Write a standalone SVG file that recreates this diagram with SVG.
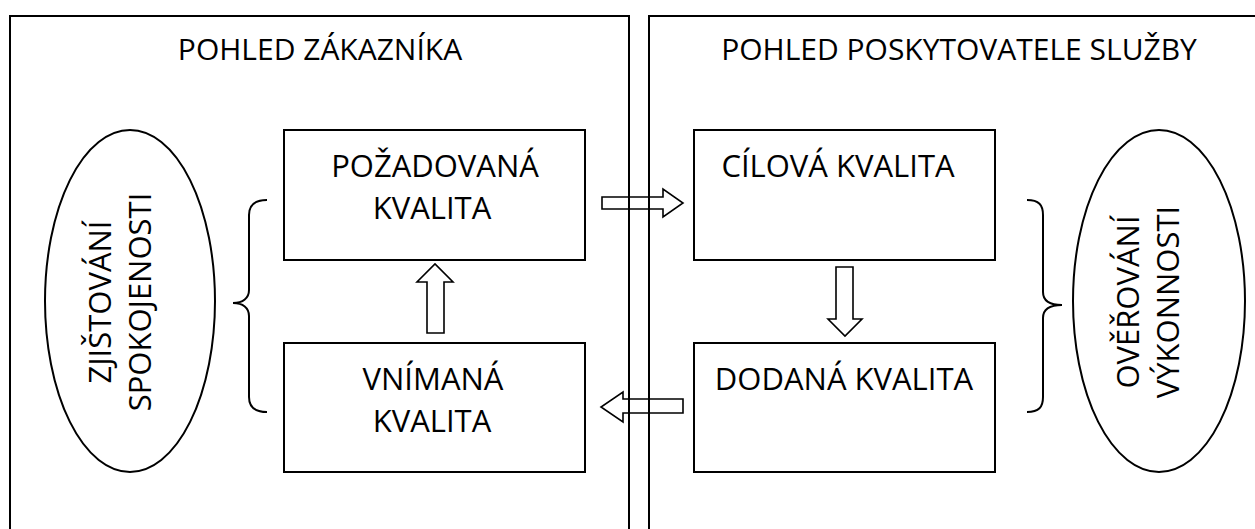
<svg xmlns="http://www.w3.org/2000/svg" width="1255" height="529" viewBox="0 0 1255 529">
<style>
.ln{fill:none;stroke:#000;stroke-width:2}
.bx{fill:#fff;stroke:#000;stroke-width:2}
.el{fill:#fff;stroke:#000;stroke-width:2}
.ar{fill:#fff;stroke:#000;stroke-width:1.6;stroke-linejoin:miter}
.t{font-family:"Open Sans","Noto Sans",sans-serif;font-size:31px;fill:#000;text-anchor:middle}
.h{font-family:"Open Sans","Noto Sans",sans-serif;font-size:30px;fill:#000;text-anchor:middle}
</style>
<rect width="1255" height="529" fill="#fff"/>
<g id="connectors">
<path class="ar" d="M602,197 L663,197 L663,189 L683,203 L663,217 L663,209 L602,209 Z"/>
<path class="ar" d="M427,333 L427,282 L417,282 L435,264 L453,282 L444,282 L444,333 Z"/>
<path class="ar" d="M836,267 L853,267 L853,319 L862,319 L845,336 L828,319 L836,319 Z"/>
<path class="ar" d="M683,399 L623,399 L623,392 L601,407 L623,422 L623,413 L683,413 Z"/>
</g>
<g id="panel-customer">
<path class="ln" d="M10,540 L10,16 L629,16 L629,540"/>
<text class="h" x="320" y="60">POHLED ZÁKAZNÍKA</text>
</g>
<g id="panel-provider">
<path class="ln" d="M649,540 L649,16 L1270,16 L1270,540"/>
<text class="h" x="959" y="60">POHLED POSKYTOVATELE SLUŽBY</text>
</g>
<g id="node-pozadovana">
<rect class="bx" x="284" y="130" width="301" height="130"/>
<text class="t" x="435" y="177">POŽADOVANÁ</text>
<text class="t" x="432" y="219">KVALITA</text>
</g>
<g id="node-vnimana">
<rect class="bx" x="284" y="343" width="301" height="129"/>
<text class="t" x="433" y="390">VNÍMANÁ</text>
<text class="t" x="432" y="432">KVALITA</text>
</g>
<g id="node-cilova">
<rect class="bx" x="694" y="130" width="301" height="130"/>
<text class="t" x="838" y="177">CÍLOVÁ KVALITA</text>
</g>
<g id="node-dodana">
<rect class="bx" x="694" y="343" width="301" height="129"/>
<text class="t" x="844" y="390">DODANÁ KVALITA</text>
</g>
<g id="node-zjistovani">
<ellipse class="el" cx="130" cy="301" rx="85" ry="171"/>
<text class="t" transform="translate(111,302) rotate(-90)">ZJIŠTOVÁNÍ</text>
<text class="t" transform="translate(151,302) rotate(-90)">SPOKOJENOSTI</text>
</g>
<g id="node-overovani">
<ellipse class="el" cx="1159" cy="301" rx="86" ry="171"/>
<text class="t" transform="translate(1139,302) rotate(-90)">OVĚŘOVÁNÍ</text>
<text class="t" transform="translate(1179,302) rotate(-90)">VÝKONNOSTI</text>
</g>
<g id="brace-left">
<path class="ln" d="M267,200 C255,200 249,205 249,215 L249,290 C249,298 243,303 233,303 C243,303 249,308 249,316 L249,397 C249,407 255,412 267,412"/>
</g>
<g id="brace-right">
<path class="ln" d="M1027,200 C1039,200 1043,205 1043,215 L1043,292 C1043,300 1049,305 1062,305 C1049,305 1043,310 1043,318 L1043,397 C1043,407 1039,412 1027,412"/>
</g>
</svg>
